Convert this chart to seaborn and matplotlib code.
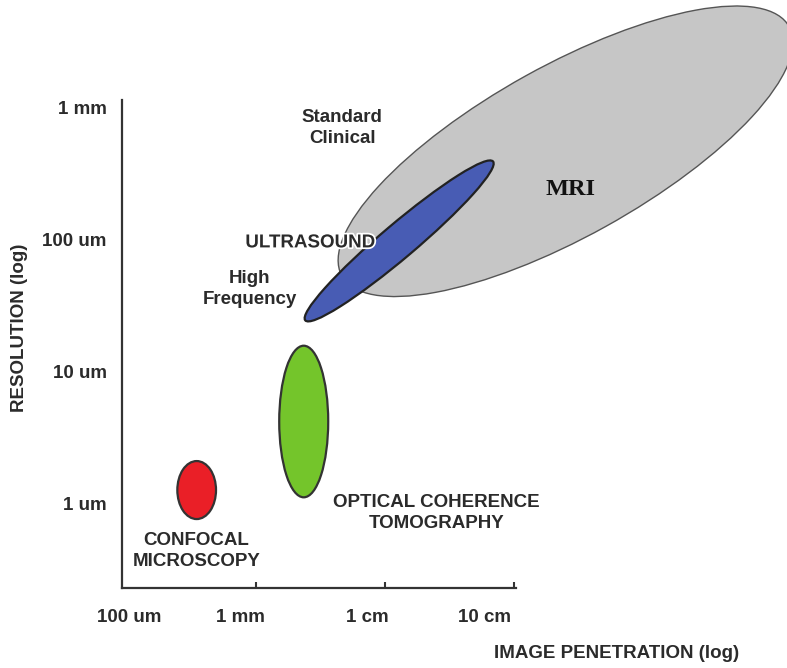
import matplotlib
matplotlib.use("Agg")
import matplotlib.pyplot as plt
import matplotlib.patheffects as pe
from matplotlib.patches import Ellipse
import seaborn as sns

# log10 units: x in mm, y in um
techniques = ["MRI", "ULTRASOUND", "OCT", "CONFOCAL"]
center_x = [2.40, 1.11, 0.37, -0.46]
center_y = [2.67, 1.99, 0.62, 0.10]
major = [3.95, 1.89, 0.38, 0.30]
minor = [1.30, 0.26, 1.15, 0.44]
angle = [28.5, 39.6, 0.0, 0.0]
fills = ["#c6c6c6", "#485cb4", "#74c52b", "#ea1f27"]
edges = ["#555555", "#222222", "#333333", "#333333"]

x_ticks = [0, 1, 2]
x_label_pos = [-0.98, -0.12, 0.86, 1.77]
x_labels = ["100 um", "1 mm", "1 cm", "10 cm"]
y_ticks = [3, 2, 1, 0]
y_labels = ["1 mm", "100 um", "10 um", "1 um"]

sns.set_style("ticks")
plt.rcParams["font.family"] = ["Liberation Sans", "DejaVu Sans"]
txt = "#2b2b2b"

fig = plt.figure(figsize=(7.87, 6.68), dpi=100)
ax = fig.add_axes([122 / 787, 80 / 668, 394 / 787, 488 / 668])
ax.set_xlim(-1.039, 2.016)
ax.set_ylim(-0.643, 3.059)

for i in range(len(techniques)):
    e = Ellipse((center_x[i], center_y[i]), major[i], minor[i], angle=angle[i],
                facecolor=fills[i], edgecolor=edges[i],
                linewidth=1.0 if i == 0 else 1.6, clip_on=False, zorder=2 + i)
    ax.add_patch(e)

# ticks
ax.set_xticks(x_ticks)
ax.set_xticklabels([])
ax.set_xticks(x_label_pos, x_labels, minor=True)
ax.tick_params(axis="x", which="major", direction="in", length=4, width=1.5, color="#333333")
ax.tick_params(axis="x", which="minor", length=0, pad=15, labelsize=13.5, labelcolor=txt)
ax.set_yticks(y_ticks, y_labels)
ax.tick_params(axis="y", length=0, pad=11, labelsize=13.5, labelcolor=txt)
for lab in ax.get_xticklabels(minor=True) + ax.get_yticklabels():
    lab.set_fontweight("bold")

sns.despine(ax=ax)
for s in ["left", "bottom"]:
    ax.spines[s].set_color("#333333")
    ax.spines[s].set_linewidth(1.6)

bold = dict(fontsize=13.5, fontweight="bold", color=txt, ha="center", va="center",
            linespacing=1.3, zorder=10)
ax.text(0.67, 2.85, "Standard\nClinical", **bold)
ax.text(0.42, 1.975, "ULTRASOUND",
        path_effects=[pe.withStroke(linewidth=2.5, foreground="white")], **bold)
ax.text(-0.05, 1.625, "High\nFrequency", **bold)
ax.text(1.40, -0.075, "OPTICAL COHERENCE\nTOMOGRAPHY", **bold)
ax.text(-0.46, -0.365, "CONFOCAL\nMICROSCOPY", **bold)
ax.text(2.44, 2.38, "MRI", fontsize=17.5, fontweight="bold", family="Liberation Serif",
        color="#111111", ha="center", va="center", zorder=10)

fig.text(617 / 787, 1 - 653 / 668, "IMAGE PENETRATION (log)", fontsize=13.5,
         fontweight="bold", color=txt, ha="center", va="center")
fig.text(20 / 787, 1 - 328 / 668, "RESOLUTION (log)", fontsize=13.5,
         fontweight="bold", color=txt, ha="center", va="center", rotation=90)

fig.savefig("out.png", dpi=100, facecolor="white")
